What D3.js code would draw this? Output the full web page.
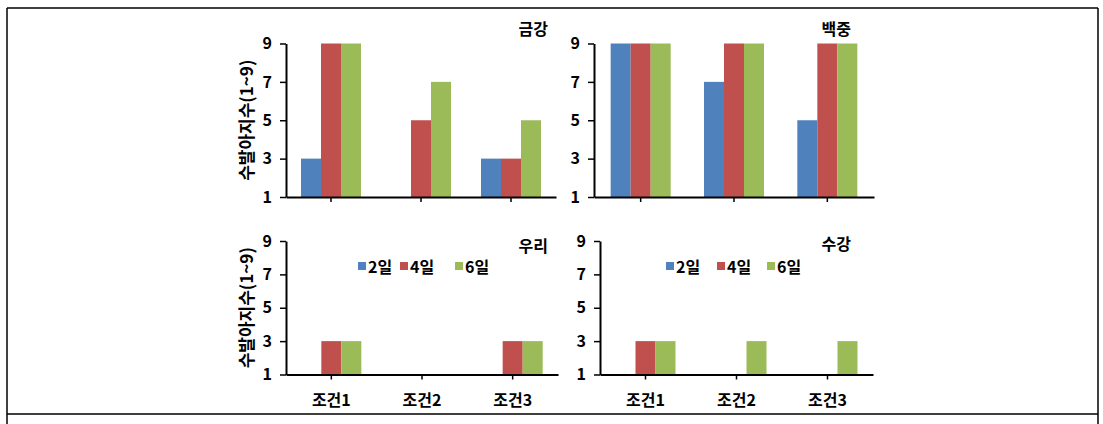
<!DOCTYPE html>
<html>
<head>
<meta charset="utf-8">
<script src="https://cdn.jsdelivr.net/npm/d3@7"></script>
<style>
  html, body { margin: 0; padding: 0; background: #fff; }
  svg { display: block; }
  text { font-family: "Noto Sans CJK KR", "Malgun Gothic", sans-serif; font-weight: bold; fill: #000; }
</style>
</head>
<body>
<svg id="chart" width="1103" height="424"></svg>
<script>
// ---- data ----
const categories = ["조건1", "조건2", "조건3"];
const seriesNames = ["2일", "4일", "6일"];
const yTicks = [1, 3, 5, 7, 9];
const yTitle = "수발아지수(1~9)";

const panelTitles = ["금강", "백중", "우리", "수강"];

// values per panel: [2일, 4일, 6일] for 조건1..3 (1 = no bar)
const geumgang2 = [3, 1, 3];
const geumgang4 = [9, 5, 3];
const geumgang6 = [9, 7, 5];

const baekjung2 = [9, 7, 5];
const baekjung4 = [9, 9, 9];
const baekjung6 = [9, 9, 9];

const uri2 = [1, 1, 1];
const uri4 = [3, 1, 3];
const uri6 = [3, 1, 3];

const sugang2 = [1, 1, 1];
const sugang4 = [3, 1, 1];
const sugang6 = [3, 3, 3];

// ---- layout ----
const colors = ["#4F81BD", "#C0504D", "#9BBB59"];
const svg = d3.select("#chart");

// outer frame
const frame = svg.append("g").attr("stroke", "#000").attr("stroke-width", 1.5);
frame.append("line").attr("x1", 7).attr("x2", 1098).attr("y1", 8).attr("y2", 8);
frame.append("line").attr("x1", 7).attr("x2", 1098).attr("y1", 414).attr("y2", 414);
frame.append("line").attr("x1", 7).attr("x2", 7).attr("y1", 8).attr("y2", 424);
frame.append("line").attr("x1", 1098).attr("x2", 1098).attr("y1", 8).attr("y2", 424);

const panels = [
  { title: panelTitles[0], vals: [geumgang2, geumgang4, geumgang6], x0: 286, x1: 556, yTop: 43.5, yBot: 197, titleX: 548, titleY: 28, showX: false, yTitle: true, legend: null },
  { title: panelTitles[1], vals: [baekjung2, baekjung4, baekjung6], x0: 594, x1: 874, yTop: 43.5, yBot: 197, titleX: 851, titleY: 28, showX: false, yTitle: false, legend: null },
  { title: panelTitles[2], vals: [uri2, uri4, uri6], x0: 286, x1: 558, yTop: 241, yBot: 374.5, titleX: 548, titleY: 245, showX: true, yTitle: true, legend: { sq: [358, 400, 455], tx: [368, 410, 465] } },
  { title: panelTitles[3], vals: [sugang2, sugang4, sugang6], x0: 600, x1: 873, yTop: 241, yBot: 374.5, titleX: 851, titleY: 243, showX: true, yTitle: false, legend: { sq: [666, 717, 767], tx: [676, 727, 777] } }
];

const FS = "16px";

panels.forEach(p => {
  const g = svg.append("g");
  const x = d3.scaleBand().domain(categories).range([p.x0, p.x1]);
  const xs = d3.scaleBand().domain(seriesNames).range([-30, 30]);
  const y = d3.scaleLinear().domain([1, 9]).range([p.yBot, p.yTop]);

  // bars
  seriesNames.forEach((s, si) => {
    g.append("g").selectAll("rect")
      .data(categories.map((c, ci) => ({ c, v: p.vals[si][ci] })))
      .join("rect")
      .attr("x", d => x(d.c) + x.bandwidth() / 2 + xs(s))
      .attr("width", xs.bandwidth())
      .attr("y", d => y(d.v))
      .attr("height", d => y(1) - y(d.v))
      .attr("fill", colors[si]);
  });

  // y axis
  const ya = g.append("g")
    .attr("transform", `translate(${p.x0},0)`)
    .call(d3.axisLeft(y).tickValues(yTicks).tickSize(6).tickSizeOuter(0).tickPadding(8));
  ya.select(".domain").attr("stroke", "#000").attr("stroke-width", 2);
  ya.selectAll(".tick line").attr("stroke", "#000").attr("stroke-width", 1.5);
  ya.selectAll(".tick text").style("font-size", FS).style("font-family", "'Noto Sans CJK KR', sans-serif").style("font-weight", "bold");

  // x axis
  const xa = g.append("g")
    .attr("transform", `translate(0,${p.yBot})`)
    .call(d3.axisBottom(x).tickSize(5).tickSizeOuter(0).tickPadding(15)
      .tickFormat(p.showX ? (d => d) : () => ""));
  xa.select(".domain").attr("stroke", "#000").attr("stroke-width", 2);
  xa.selectAll(".tick line").attr("stroke", "#000").attr("stroke-width", 1.5);
  xa.selectAll(".tick text").style("font-size", FS).style("font-family", "'Noto Sans CJK KR', sans-serif").style("font-weight", "bold");

  // panel title
  g.append("text")
    .attr("x", p.titleX).attr("y", p.titleY)
    .attr("text-anchor", "end").attr("dominant-baseline", "central")
    .style("font-size", FS)
    .text(p.title);

  // y title
  if (p.yTitle) {
    const cy = (p.yTop + p.yBot) / 2;
    g.append("text")
      .attr("transform", `translate(245,${cy}) rotate(-90)`)
      .attr("text-anchor", "middle").attr("dominant-baseline", "central")
      .style("font-size", "17px")
      .text(yTitle);
  }

  // legend
  if (p.legend) {
    const ly = 266;
    seriesNames.forEach((s, si) => {
      g.append("rect")
        .attr("x", p.legend.sq[si]).attr("y", ly - 4)
        .attr("width", 8).attr("height", 8)
        .attr("fill", colors[si]);
      g.append("text")
        .attr("x", p.legend.tx[si]).attr("y", ly)
        .attr("dominant-baseline", "central")
        .style("font-size", FS)
        .text(s);
    });
  }
});
</script>
</body>
</html>
